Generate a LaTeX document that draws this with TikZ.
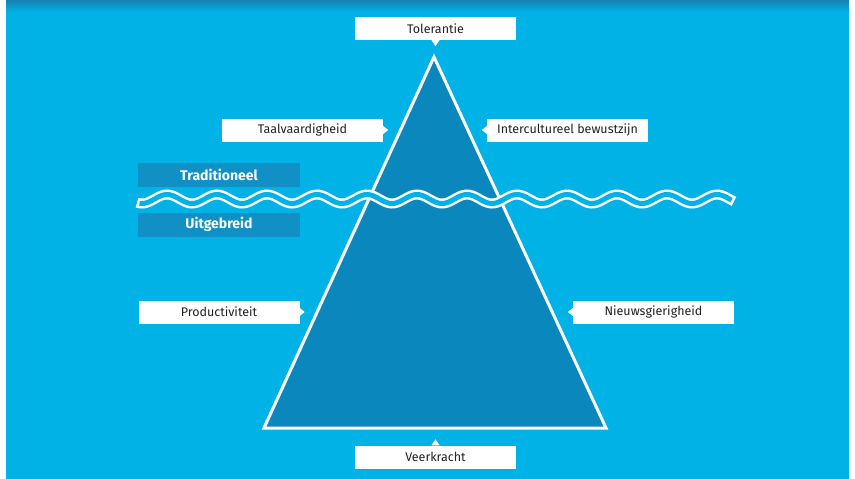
\documentclass[tikz,border=0pt]{standalone}
\usepackage{fontspec}
\setmainfont{Fira Sans}
\definecolor{bgblue}{HTML}{00B2E6}
\definecolor{topblue}{HTML}{1682B0}
\definecolor{icedark}{HTML}{0A88BD}
\definecolor{boxdark}{HTML}{1090C4}
\definecolor{txt}{HTML}{222222}
\tikzset{
  lbl/.style={fill=white, minimum width=161pt, minimum height=23pt, inner sep=0pt,
    font=\fontsize{12.5}{14}\selectfont, text=txt},
  dk/.style={fill=boxdark, minimum width=162pt, minimum height=24pt, inner sep=0pt,
    font=\fontsize{14}{16}\selectfont\bfseries, text=white},
  ptr/.style={fill=white}
}
\begin{document}
\begin{tikzpicture}[x=1pt,y=-1pt]
\useasboundingbox (0,0) rectangle (855,479);
\fill[white] (0,0) rectangle (855,479);
\fill[bgblue] (6,0) rectangle (849,479);
\shade[top color=topblue, bottom color=bgblue] (6,0) rectangle (849,12);
% iceberg
\coordinate (apex) at (434,57);
\coordinate (bl) at (264,428);
\coordinate (br) at (606,428);
\filldraw[fill=icedark, draw=white, line width=3pt, line join=miter] (apex) -- (br) -- (bl) -- cycle;
% wave
\draw[white, line width=10pt] plot[domain=137:734, samples=240, smooth] (\x, {199-4.5*cos(7.2*(\x-167))});
\draw[bgblue, line width=5pt] plot[domain=139.5:731.5, samples=240, smooth] (\x, {199-4.5*cos(7.2*(\x-167))});
% labels
\node[lbl] (tol) at (435.5,28.5) {Tolerantie};
\fill[ptr] ([xshift=-4pt]tol.south) -- ([xshift=4pt]tol.south) -- ([yshift=-6pt]tol.south) -- cycle;
\node[lbl] (taal) at (302.5,130) {Taalvaardigheid};
\fill[ptr] ([yshift=4pt]taal.east) -- ([yshift=-4pt]taal.east) -- ([xshift=5pt]taal.east) -- cycle;
\node[lbl] (inter) at (567.5,130) {Intercultureel bewustzijn};
\fill[ptr] ([yshift=4pt]inter.west) -- ([yshift=-4pt]inter.west) -- ([xshift=-5pt]inter.west) -- cycle;
\node[dk] (trad) at (219,175) {Traditioneel};
\node[dk] (uit) at (219,224.5) {Uitgebreid};
\node[lbl] (prod) at (219,312) {Productiviteit};
\fill[ptr] ([yshift=4pt]prod.east) -- ([yshift=-4pt]prod.east) -- ([xshift=5pt]prod.east) -- cycle;
\node[lbl] (nieuw) at (653.5,312) {Nieuwsgierigheid};
\fill[ptr] ([yshift=4pt]nieuw.west) -- ([yshift=-4pt]nieuw.west) -- ([xshift=-5pt]nieuw.west) -- cycle;
\node[lbl] (veer) at (435.5,457) {Veerkracht};
\fill[ptr] ([xshift=-4pt]veer.north) -- ([xshift=4pt]veer.north) -- ([yshift=6pt]veer.north) -- cycle;
\end{tikzpicture}
\end{document}
